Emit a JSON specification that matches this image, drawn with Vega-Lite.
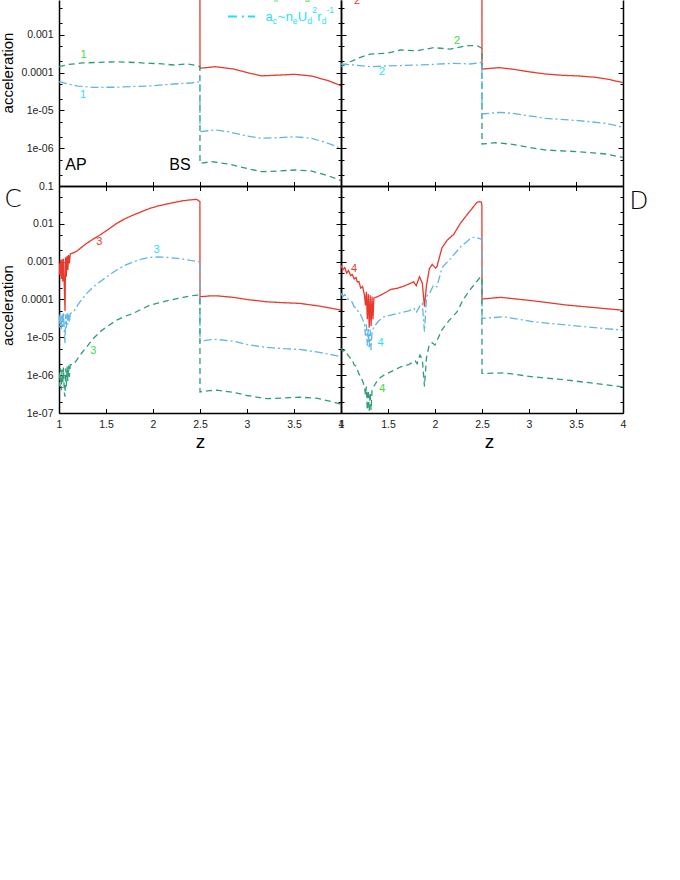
{
 "$schema": "https://vega.github.io/schema/vega-lite/v6.json",
 "padding": 0,
 "background": "white",
 "config": {
  "view": {"stroke": null},
  "axis": {"grid": false, "domainColor": "#000", "domainWidth": 1.5, "tickColor": "#000", "tickWidth": 1, "labelFont": "Liberation Sans", "labelFontSize": 10.5, "labelColor": "#222", "titleFont": "Liberation Sans", "titleFontWeight": "normal", "titleColor": "#000", "labelOverlap": false, "labelFlush": false},
  "text": {"font": "Liberation Sans"}
 },
 "datasets": {
  "curves": [
   {"panel":"A","series":"red","z":1,"a":0.015},{"panel":"A","series":"red","z":1.5,"a":0.022},{"panel":"A","series":"red","z":2,"a":0.03},{"panel":"A","series":"red","z":2.499,"a":0.04},{"panel":"A","series":"red","z":2.5,"a":0.00013},{"panel":"A","series":"red","z":2.66,"a":0.000143},{"panel":"A","series":"red","z":2.85,"a":0.000125},{"panel":"A","series":"red","z":3,"a":0.0001},{"panel":"A","series":"red","z":3.156,"a":8.2e-5},{"panel":"A","series":"red","z":3.3,"a":8.5e-5},{"panel":"A","series":"red","z":3.511,"a":9.0e-5},{"panel":"A","series":"red","z":3.688,"a":8.1e-5},{"panel":"A","series":"red","z":3.865,"a":6.1e-5},{"panel":"A","series":"red","z":4,"a":4.5e-5},
   {"panel":"A","series":"green","z":1,"a":0.000143},{"panel":"A","series":"green","z":1.1,"a":0.000164},{"panel":"A","series":"green","z":1.25,"a":0.00018},{"panel":"A","series":"green","z":1.436,"a":0.000187},{"panel":"A","series":"green","z":1.61,"a":0.000194},{"panel":"A","series":"green","z":1.8,"a":0.000185},{"panel":"A","series":"green","z":1.97,"a":0.000176},{"panel":"A","series":"green","z":2.1,"a":0.00017},{"panel":"A","series":"green","z":2.22,"a":0.000159},{"panel":"A","series":"green","z":2.36,"a":0.000169},{"panel":"A","series":"green","z":2.46,"a":0.000155},{"panel":"A","series":"green","z":2.499,"a":0.000143},{"panel":"A","series":"green","z":2.5,"a":3.98e-7},{"panel":"A","series":"green","z":2.624,"a":4.4e-7},{"panel":"A","series":"green","z":2.801,"a":3.82e-7},{"panel":"A","series":"green","z":3,"a":2.9e-7},{"panel":"A","series":"green","z":3.156,"a":2.39e-7},{"panel":"A","series":"green","z":3.33,"a":2.5e-7},{"panel":"A","series":"green","z":3.511,"a":2.65e-7},{"panel":"A","series":"green","z":3.688,"a":2.49e-7},{"panel":"A","series":"green","z":3.865,"a":1.87e-7},{"panel":"A","series":"green","z":4,"a":1.38e-7},
   {"panel":"A","series":"blue","z":1,"a":5.74e-5},{"panel":"A","series":"blue","z":1.1,"a":5.0e-5},{"panel":"A","series":"blue","z":1.2,"a":4.4e-5},{"panel":"A","series":"blue","z":1.36,"a":4.08e-5},{"panel":"A","series":"blue","z":1.61,"a":4.1e-5},{"panel":"A","series":"blue","z":1.8,"a":4.3e-5},{"panel":"A","series":"blue","z":1.97,"a":4.43e-5},{"panel":"A","series":"blue","z":2.22,"a":4.99e-5},{"panel":"A","series":"blue","z":2.4,"a":5.3e-5},{"panel":"A","series":"blue","z":2.499,"a":5.74e-5},{"panel":"A","series":"blue","z":2.5,"a":2.74e-6},{"panel":"A","series":"blue","z":2.66,"a":3.03e-6},{"panel":"A","series":"blue","z":2.801,"a":2.74e-6},{"panel":"A","series":"blue","z":3,"a":2.1e-6},{"panel":"A","series":"blue","z":3.156,"a":1.83e-6},{"panel":"A","series":"blue","z":3.33,"a":1.9e-6},{"panel":"A","series":"blue","z":3.511,"a":2.01e-6},{"panel":"A","series":"blue","z":3.688,"a":1.83e-6},{"panel":"A","series":"blue","z":3.865,"a":1.35e-6},{"panel":"A","series":"blue","z":4,"a":9.9e-7},

   {"panel":"B","series":"red","z":1,"a":0.012},{"panel":"B","series":"red","z":1.5,"a":0.018},{"panel":"B","series":"red","z":2,"a":0.028},{"panel":"B","series":"red","z":2.499,"a":0.04},{"panel":"B","series":"red","z":2.5,"a":0.000124},{"panel":"B","series":"red","z":2.681,"a":0.000135},{"panel":"B","series":"red","z":2.822,"a":0.000124},{"panel":"B","series":"red","z":3,"a":0.000105},{"panel":"B","series":"red","z":3.178,"a":9.18e-5},{"panel":"B","series":"red","z":3.35,"a":8.5e-5},{"panel":"B","series":"red","z":3.532,"a":8.13e-5},{"panel":"B","series":"red","z":3.71,"a":7.51e-5},{"panel":"B","series":"red","z":3.85,"a":6.6e-5},{"panel":"B","series":"red","z":4,"a":5.41e-5},
   {"panel":"B","series":"green","z":1,"a":0.000143},{"panel":"B","series":"green","z":1.099,"a":0.000194},{"panel":"B","series":"green","z":1.2,"a":0.00025},{"panel":"B","series":"green","z":1.312,"a":0.00031},{"panel":"B","series":"green","z":1.489,"a":0.000324},{"panel":"B","series":"green","z":1.631,"a":0.000396},{"panel":"B","series":"green","z":1.809,"a":0.00038},{"panel":"B","series":"green","z":1.986,"a":0.000456},{"panel":"B","series":"green","z":2.163,"a":0.00042},{"panel":"B","series":"green","z":2.34,"a":0.000515},{"panel":"B","series":"green","z":2.447,"a":0.000515},{"panel":"B","series":"green","z":2.499,"a":0.00044},{"panel":"B","series":"green","z":2.5,"a":1.29e-6},{"panel":"B","series":"green","z":2.646,"a":1.4e-6},{"panel":"B","series":"green","z":2.822,"a":1.27e-6},{"panel":"B","series":"green","z":3,"a":1.05e-6},{"panel":"B","series":"green","z":3.178,"a":8.95e-7},{"panel":"B","series":"green","z":3.532,"a":8.07e-7},{"panel":"B","series":"green","z":3.816,"a":7.03e-7},{"panel":"B","series":"green","z":4,"a":5.7e-7},
   {"panel":"B","series":"blue","z":1,"a":0.000169},{"panel":"B","series":"blue","z":1.135,"a":0.000159},{"panel":"B","series":"blue","z":1.312,"a":0.000143},{"panel":"B","series":"blue","z":1.489,"a":0.00015},{"panel":"B","series":"blue","z":1.844,"a":0.000159},{"panel":"B","series":"blue","z":2.199,"a":0.000176},{"panel":"B","series":"blue","z":2.376,"a":0.000169},{"panel":"B","series":"blue","z":2.499,"a":0.000187},{"panel":"B","series":"blue","z":2.5,"a":8.04e-6},{"panel":"B","series":"blue","z":2.681,"a":8.9e-6},{"panel":"B","series":"blue","z":2.822,"a":8.38e-6},{"panel":"B","series":"blue","z":3,"a":7.2e-6},{"panel":"B","series":"blue","z":3.178,"a":6.18e-6},{"panel":"B","series":"blue","z":3.532,"a":5.34e-6},{"panel":"B","series":"blue","z":3.816,"a":4.56e-6},{"panel":"B","series":"blue","z":4,"a":3.57e-6},

   {"panel":"C","series":"red","z":1,"a":0.0009},{"panel":"C","series":"red","z":1.008,"a":0.00045},{"panel":"C","series":"red","z":1.016,"a":0.0011},{"panel":"C","series":"red","z":1.024,"a":0.00035},{"panel":"C","series":"red","z":1.032,"a":0.00115},{"panel":"C","series":"red","z":1.04,"a":0.0003},{"panel":"C","series":"red","z":1.048,"a":0.0012},{"panel":"C","series":"red","z":1.056,"a":0.00025},{"panel":"C","series":"red","z":1.064,"a":5.0e-5},{"panel":"C","series":"red","z":1.07,"a":0.0013},{"panel":"C","series":"red","z":1.078,"a":0.0004},{"panel":"C","series":"red","z":1.086,"a":0.0014},{"panel":"C","series":"red","z":1.094,"a":0.0006},{"panel":"C","series":"red","z":1.102,"a":0.0015},{"panel":"C","series":"red","z":1.11,"a":0.0009},{"panel":"C","series":"red","z":1.12,"a":0.0016},{"panel":"C","series":"red","z":1.15,"a":0.0017},{"panel":"C","series":"red","z":1.19,"a":0.0019},{"panel":"C","series":"red","z":1.24,"a":0.0024},{"panel":"C","series":"red","z":1.295,"a":0.00305},{"panel":"C","series":"red","z":1.36,"a":0.0039},{"panel":"C","series":"red","z":1.436,"a":0.00506},{"panel":"C","series":"red","z":1.52,"a":0.007},{"panel":"C","series":"red","z":1.614,"a":0.0103},{"panel":"C","series":"red","z":1.7,"a":0.0135},{"panel":"C","series":"red","z":1.79,"a":0.0171},{"panel":"C","series":"red","z":1.88,"a":0.021},{"panel":"C","series":"red","z":1.968,"a":0.0257},{"panel":"C","series":"red","z":2.05,"a":0.0295},{"panel":"C","series":"red","z":2.146,"a":0.0334},{"panel":"C","series":"red","z":2.23,"a":0.037},{"panel":"C","series":"red","z":2.322,"a":0.0409},{"panel":"C","series":"red","z":2.4,"a":0.043},{"panel":"C","series":"red","z":2.465,"a":0.0444},{"panel":"C","series":"red","z":2.499,"a":0.0385},{"panel":"C","series":"red","z":2.5,"a":0.000118},{"panel":"C","series":"red","z":2.6,"a":0.000124},{"panel":"C","series":"red","z":2.68,"a":0.000125},{"panel":"C","series":"red","z":2.854,"a":0.000114},{"panel":"C","series":"red","z":3,"a":0.0001},{"panel":"C","series":"red","z":3.21,"a":8.7e-5},{"panel":"C","series":"red","z":3.4,"a":8.2e-5},{"panel":"C","series":"red","z":3.56,"a":7.9e-5},{"panel":"C","series":"red","z":3.77,"a":6.7e-5},{"panel":"C","series":"red","z":4,"a":5.25e-5},
   {"panel":"C","series":"blue","z":1,"a":4.0e-5},{"panel":"C","series":"blue","z":1.008,"a":1.8e-5},{"panel":"C","series":"blue","z":1.016,"a":4.5e-5},{"panel":"C","series":"blue","z":1.024,"a":1.5e-5},{"panel":"C","series":"blue","z":1.032,"a":4.2e-5},{"panel":"C","series":"blue","z":1.04,"a":2.0e-5},{"panel":"C","series":"blue","z":1.048,"a":4.6e-5},{"panel":"C","series":"blue","z":1.056,"a":1.4e-5},{"panel":"C","series":"blue","z":1.064,"a":7e-6},{"panel":"C","series":"blue","z":1.07,"a":4.0e-5},{"panel":"C","series":"blue","z":1.078,"a":1.8e-5},{"panel":"C","series":"blue","z":1.086,"a":4.4e-5},{"panel":"C","series":"blue","z":1.094,"a":2.2e-5},{"panel":"C","series":"blue","z":1.102,"a":4.0e-5},{"panel":"C","series":"blue","z":1.11,"a":2.5e-5},{"panel":"C","series":"blue","z":1.12,"a":4.2e-5},{"panel":"C","series":"blue","z":1.152,"a":4.7e-5},{"panel":"C","series":"blue","z":1.22,"a":8.5e-5},{"panel":"C","series":"blue","z":1.295,"a":0.000145},{"panel":"C","series":"blue","z":1.36,"a":0.00021},{"panel":"C","series":"blue","z":1.436,"a":0.000294},{"panel":"C","series":"blue","z":1.52,"a":0.00042},{"panel":"C","series":"blue","z":1.614,"a":0.0006},{"panel":"C","series":"blue","z":1.7,"a":0.0008},{"panel":"C","series":"blue","z":1.79,"a":0.00099},{"panel":"C","series":"blue","z":1.88,"a":0.00117},{"panel":"C","series":"blue","z":1.968,"a":0.0013},{"panel":"C","series":"blue","z":2.05,"a":0.00133},{"panel":"C","series":"blue","z":2.146,"a":0.0013},{"panel":"C","series":"blue","z":2.23,"a":0.00124},{"panel":"C","series":"blue","z":2.322,"a":0.00117},{"panel":"C","series":"blue","z":2.4,"a":0.00108},{"panel":"C","series":"blue","z":2.499,"a":0.00099},{"panel":"C","series":"blue","z":2.5,"a":7.9e-6},{"panel":"C","series":"blue","z":2.6,"a":8.6e-6},{"panel":"C","series":"blue","z":2.68,"a":8.8e-6},{"panel":"C","series":"blue","z":2.854,"a":7.9e-6},{"panel":"C","series":"blue","z":3,"a":6.5e-6},{"panel":"C","series":"blue","z":3.21,"a":5.4e-6},{"panel":"C","series":"blue","z":3.4,"a":5.0e-6},{"panel":"C","series":"blue","z":3.56,"a":4.8e-6},{"panel":"C","series":"blue","z":3.77,"a":4.0e-6},{"panel":"C","series":"blue","z":3.92,"a":3.4e-6},{"panel":"C","series":"blue","z":4,"a":3.05e-6},
   {"panel":"C","series":"green","z":1,"a":1.2e-6},{"panel":"C","series":"green","z":1.008,"a":5e-7},{"panel":"C","series":"green","z":1.016,"a":1.5e-6},{"panel":"C","series":"green","z":1.024,"a":4e-7},{"panel":"C","series":"green","z":1.032,"a":1.4e-6},{"panel":"C","series":"green","z":1.04,"a":6e-7},{"panel":"C","series":"green","z":1.048,"a":1.6e-6},{"panel":"C","series":"green","z":1.056,"a":3.5e-7},{"panel":"C","series":"green","z":1.064,"a":2.7e-7},{"panel":"C","series":"green","z":1.07,"a":1.5e-6},{"panel":"C","series":"green","z":1.078,"a":5e-7},{"panel":"C","series":"green","z":1.086,"a":1.7e-6},{"panel":"C","series":"green","z":1.094,"a":7e-7},{"panel":"C","series":"green","z":1.102,"a":1.8e-6},{"panel":"C","series":"green","z":1.11,"a":9e-7},{"panel":"C","series":"green","z":1.12,"a":1.9e-6},{"panel":"C","series":"green","z":1.15,"a":1.9e-6},{"panel":"C","series":"green","z":1.188,"a":2.49e-6},{"panel":"C","series":"green","z":1.24,"a":3.8e-6},{"panel":"C","series":"green","z":1.295,"a":5.6e-6},{"panel":"C","series":"green","z":1.36,"a":9e-6},{"panel":"C","series":"green","z":1.436,"a":1.4e-5},{"panel":"C","series":"green","z":1.52,"a":2.0e-5},{"panel":"C","series":"green","z":1.614,"a":2.85e-5},{"panel":"C","series":"green","z":1.7,"a":3.6e-5},{"panel":"C","series":"green","z":1.79,"a":4.3e-5},{"panel":"C","series":"green","z":1.88,"a":5.6e-5},{"panel":"C","series":"green","z":1.968,"a":7.1e-5},{"panel":"C","series":"green","z":2.05,"a":8.0e-5},{"panel":"C","series":"green","z":2.146,"a":9.2e-5},{"panel":"C","series":"green","z":2.23,"a":0.000102},{"panel":"C","series":"green","z":2.322,"a":0.000114},{"panel":"C","series":"green","z":2.4,"a":0.000125},{"panel":"C","series":"green","z":2.48,"a":0.000131},{"panel":"C","series":"green","z":2.499,"a":0.000125},{"panel":"C","series":"green","z":2.5,"a":3.6e-7},{"panel":"C","series":"green","z":2.6,"a":3.9e-7},{"panel":"C","series":"green","z":2.68,"a":4.0e-7},{"panel":"C","series":"green","z":2.85,"a":3.55e-7},{"panel":"C","series":"green","z":3,"a":2.9e-7},{"panel":"C","series":"green","z":3.21,"a":2.39e-7},{"panel":"C","series":"green","z":3.4,"a":2.5e-7},{"panel":"C","series":"green","z":3.56,"a":2.62e-7},{"panel":"C","series":"green","z":3.75,"a":2.45e-7},{"panel":"C","series":"green","z":3.9,"a":2.0e-7},{"panel":"C","series":"green","z":4,"a":1.71e-7},

   {"panel":"D","series":"red","z":1,"a":0.00081},{"panel":"D","series":"red","z":1.02,"a":0.0006},{"panel":"D","series":"red","z":1.04,"a":0.0007},{"panel":"D","series":"red","z":1.06,"a":0.0005},{"panel":"D","series":"red","z":1.08,"a":0.00058},{"panel":"D","series":"red","z":1.103,"a":0.00043},{"panel":"D","series":"red","z":1.12,"a":0.00046},{"panel":"D","series":"red","z":1.14,"a":0.00035},{"panel":"D","series":"red","z":1.16,"a":0.00038},{"panel":"D","series":"red","z":1.173,"a":0.00029},{"panel":"D","series":"red","z":1.19,"a":0.0003},{"panel":"D","series":"red","z":1.21,"a":0.0002},{"panel":"D","series":"red","z":1.23,"a":0.00022},{"panel":"D","series":"red","z":1.25,"a":0.00013},{"panel":"D","series":"red","z":1.26,"a":7e-5},{"panel":"D","series":"red","z":1.27,"a":0.00016},{"panel":"D","series":"red","z":1.28,"a":3e-5},{"panel":"D","series":"red","z":1.29,"a":0.00014},{"panel":"D","series":"red","z":1.3,"a":1.8e-5},{"panel":"D","series":"red","z":1.31,"a":0.00013},{"panel":"D","series":"red","z":1.32,"a":2e-5},{"panel":"D","series":"red","z":1.33,"a":0.00012},{"panel":"D","series":"red","z":1.34,"a":3e-5},{"panel":"D","series":"red","z":1.35,"a":0.00011},{"panel":"D","series":"red","z":1.386,"a":0.000118},{"panel":"D","series":"red","z":1.457,"a":0.000145},{"panel":"D","series":"red","z":1.529,"a":0.000185},{"panel":"D","series":"red","z":1.596,"a":0.000197},{"panel":"D","series":"red","z":1.67,"a":0.000226},{"panel":"D","series":"red","z":1.741,"a":0.00027},{"panel":"D","series":"red","z":1.773,"a":0.000294},{"panel":"D","series":"red","z":1.8,"a":0.00023},{"panel":"D","series":"red","z":1.835,"a":0.000399},{"panel":"D","series":"red","z":1.865,"a":0.00027},{"panel":"D","series":"red","z":1.888,"a":6.5e-5},{"panel":"D","series":"red","z":1.91,"a":0.00024},{"panel":"D","series":"red","z":1.94,"a":0.00065},{"panel":"D","series":"red","z":1.97,"a":0.00085},{"panel":"D","series":"red","z":2.005,"a":0.00068},{"panel":"D","series":"red","z":2.02,"a":0.00073},{"panel":"D","series":"red","z":2.075,"a":0.00235},{"panel":"D","series":"red","z":2.13,"a":0.0037},{"panel":"D","series":"red","z":2.2,"a":0.0053},{"panel":"D","series":"red","z":2.27,"a":0.0103},{"panel":"D","series":"red","z":2.36,"a":0.02},{"panel":"D","series":"red","z":2.447,"a":0.037},{"panel":"D","series":"red","z":2.475,"a":0.0385},{"panel":"D","series":"red","z":2.492,"a":0.0375},{"panel":"D","series":"red","z":2.499,"a":0.032},{"panel":"D","series":"red","z":2.5,"a":0.000103},{"panel":"D","series":"red","z":2.7,"a":0.000114},{"panel":"D","series":"red","z":3.05,"a":9.2e-5},{"panel":"D","series":"red","z":3.41,"a":7.1e-5},{"panel":"D","series":"red","z":4,"a":5.2e-5},
   {"panel":"D","series":"blue","z":1,"a":0.000145},{"panel":"D","series":"blue","z":1.02,"a":0.00012},{"panel":"D","series":"blue","z":1.04,"a":0.000135},{"panel":"D","series":"blue","z":1.07,"a":0.000105},{"panel":"D","series":"blue","z":1.1,"a":9e-5},{"panel":"D","series":"blue","z":1.12,"a":8.5e-5},{"panel":"D","series":"blue","z":1.138,"a":6.5e-5},{"panel":"D","series":"blue","z":1.16,"a":6.0e-5},{"panel":"D","series":"blue","z":1.19,"a":4.5e-5},{"panel":"D","series":"blue","z":1.21,"a":3.9e-5},{"panel":"D","series":"blue","z":1.23,"a":3.0e-5},{"panel":"D","series":"blue","z":1.25,"a":2.2e-5},{"panel":"D","series":"blue","z":1.26,"a":1.1e-5},{"panel":"D","series":"blue","z":1.27,"a":2.2e-5},{"panel":"D","series":"blue","z":1.28,"a":6e-6},{"panel":"D","series":"blue","z":1.29,"a":1.8e-5},{"panel":"D","series":"blue","z":1.3,"a":5e-6},{"panel":"D","series":"blue","z":1.31,"a":1.6e-5},{"panel":"D","series":"blue","z":1.32,"a":4.6e-6},{"panel":"D","series":"blue","z":1.33,"a":1.4e-5},{"panel":"D","series":"blue","z":1.351,"a":1.9e-5},{"panel":"D","series":"blue","z":1.4,"a":2.7e-5},{"panel":"D","series":"blue","z":1.457,"a":3.5e-5},{"panel":"D","series":"blue","z":1.55,"a":4.0e-5},{"panel":"D","series":"blue","z":1.635,"a":4.45e-5},{"panel":"D","series":"blue","z":1.72,"a":5.0e-5},{"panel":"D","series":"blue","z":1.777,"a":5.8e-5},{"panel":"D","series":"blue","z":1.8,"a":4.5e-5},{"panel":"D","series":"blue","z":1.835,"a":6.5e-5},{"panel":"D","series":"blue","z":1.865,"a":7.9e-5},{"panel":"D","series":"blue","z":1.888,"a":1.4e-5},{"panel":"D","series":"blue","z":1.91,"a":0.00012},{"panel":"D","series":"blue","z":1.95,"a":0.00016},{"panel":"D","series":"blue","z":1.985,"a":0.00024},{"panel":"D","series":"blue","z":2.02,"a":0.000217},{"panel":"D","series":"blue","z":2.075,"a":0.0007},{"panel":"D","series":"blue","z":2.167,"a":0.00122},{"panel":"D","series":"blue","z":2.273,"a":0.00248},{"panel":"D","series":"blue","z":2.38,"a":0.00413},{"panel":"D","series":"blue","z":2.42,"a":0.0045},{"panel":"D","series":"blue","z":2.46,"a":0.0042},{"panel":"D","series":"blue","z":2.499,"a":0.0039},{"panel":"D","series":"blue","z":2.5,"a":3.16e-5},{"panel":"D","series":"blue","z":2.73,"a":3.5e-5},{"panel":"D","series":"blue","z":3.05,"a":2.57e-5},{"panel":"D","series":"blue","z":3.41,"a":2.1e-5},{"panel":"D","series":"blue","z":4,"a":1.55e-5},
   {"panel":"D","series":"green","z":1,"a":5.1e-6},{"panel":"D","series":"green","z":1.02,"a":4.3e-6},{"panel":"D","series":"green","z":1.046,"a":4.6e-6},{"panel":"D","series":"green","z":1.07,"a":3.5e-6},{"panel":"D","series":"green","z":1.1,"a":2.8e-6},{"panel":"D","series":"green","z":1.12,"a":2.6e-6},{"panel":"D","series":"green","z":1.138,"a":1.9e-6},{"panel":"D","series":"green","z":1.16,"a":1.7e-6},{"panel":"D","series":"green","z":1.19,"a":1.1e-6},{"panel":"D","series":"green","z":1.21,"a":9e-7},{"panel":"D","series":"green","z":1.23,"a":7e-7},{"panel":"D","series":"green","z":1.25,"a":5e-7},{"panel":"D","series":"green","z":1.26,"a":3e-7},{"panel":"D","series":"green","z":1.27,"a":5e-7},{"panel":"D","series":"green","z":1.28,"a":1.2e-7},{"panel":"D","series":"green","z":1.29,"a":4e-7},{"panel":"D","series":"green","z":1.3,"a":1.1e-7},{"panel":"D","series":"green","z":1.31,"a":3.5e-7},{"panel":"D","series":"green","z":1.32,"a":1.2e-7},{"panel":"D","series":"green","z":1.33,"a":4e-7},{"panel":"D","series":"green","z":1.367,"a":6.0e-7},{"panel":"D","series":"green","z":1.4,"a":8e-7},{"panel":"D","series":"green","z":1.457,"a":1.0e-6},{"panel":"D","series":"green","z":1.55,"a":1.3e-6},{"panel":"D","series":"green","z":1.635,"a":1.66e-6},{"panel":"D","series":"green","z":1.72,"a":1.9e-6},{"panel":"D","series":"green","z":1.79,"a":2.4e-6},{"panel":"D","series":"green","z":1.81,"a":2.0e-6},{"panel":"D","series":"green","z":1.84,"a":3.4e-6},{"panel":"D","series":"green","z":1.865,"a":2.6e-6},{"panel":"D","series":"green","z":1.888,"a":5.0e-7},{"panel":"D","series":"green","z":1.91,"a":3.0e-6},{"panel":"D","series":"green","z":1.94,"a":6.5e-6},{"panel":"D","series":"green","z":1.97,"a":7.2e-6},{"panel":"D","series":"green","z":2,"a":6.3e-6},{"panel":"D","series":"green","z":2.075,"a":1.6e-5},{"panel":"D","series":"green","z":2.15,"a":2.8e-5},{"panel":"D","series":"green","z":2.234,"a":4.7e-5},{"panel":"D","series":"green","z":2.3,"a":0.0001},{"panel":"D","series":"green","z":2.38,"a":0.00019},{"panel":"D","series":"green","z":2.486,"a":0.0004},{"panel":"D","series":"green","z":2.499,"a":0.00039},{"panel":"D","series":"green","z":2.5,"a":1.11e-6},{"panel":"D","series":"green","z":2.73,"a":1.15e-6},{"panel":"D","series":"green","z":3.05,"a":9.0e-7},{"panel":"D","series":"green","z":3.41,"a":7.4e-7},{"panel":"D","series":"green","z":4,"a":4.9e-7}
  ],
  "texts": [
   {"panel":"A","kind":"num","series":"lgreen","text":"1","z":1.26,"a":0.000292},
   {"panel":"A","kind":"num","series":"lcyan","text":"1","z":1.256,"a":2.55e-5},
   {"panel":"B","kind":"num","series":"lred","text":"2","z":1.17,"a":0.0078},
   {"panel":"B","kind":"num","series":"lgreen","text":"2","z":2.234,"a":0.000698},
   {"panel":"B","kind":"num","series":"lcyan","text":"2","z":1.436,"a":0.000102},
   {"panel":"C","kind":"num","series":"lred","text":"3","z":1.429,"a":0.00337},
   {"panel":"C","kind":"num","series":"lcyan","text":"3","z":2.039,"a":0.00203},
   {"panel":"C","kind":"num","series":"lgreen","text":"3","z":1.365,"a":4.4e-6},
   {"panel":"D","kind":"num","series":"lred","text":"4","z":1.138,"a":0.000625},
   {"panel":"D","kind":"num","series":"lcyan","text":"4","z":1.422,"a":6.9e-6},
   {"panel":"D","kind":"num","series":"lgreen","text":"4","z":1.44,"a":4.2e-7},
   {"panel":"A","kind":"big","series":"black","text":"AP","z":1.181,"a":3.6e-7},
   {"panel":"A","kind":"big","series":"black","text":"BS","z":2.287,"a":3.6e-7},
   {"panel":"C","kind":"big","series":"black","text":"C","z":0.511,"a":0.0453},
   {"panel":"D","kind":"big","series":"black","text":"D","z":4.17,"a":0.0401},
   {"panel":"A","kind":"main","series":"lcyan","text":"a","z":3.197,"a":0.0029},
   {"panel":"A","kind":"main","series":"lcyan","text":"~","z":3.324,"a":0.0029},
   {"panel":"A","kind":"main","series":"lcyan","text":"n","z":3.411,"a":0.0029},
   {"panel":"A","kind":"main","series":"lcyan","text":"U","z":3.54,"a":0.0029},
   {"panel":"A","kind":"main","series":"lcyan","text":"r","z":3.748,"a":0.0029},
   {"panel":"A","kind":"sub","series":"lcyan","text":"c","z":3.273,"a":0.00234},
   {"panel":"A","kind":"sub","series":"lcyan","text":"e","z":3.487,"a":0.00234},
   {"panel":"A","kind":"sub","series":"lcyan","text":"d","z":3.64,"a":0.00234},
   {"panel":"A","kind":"sub","series":"lcyan","text":"d","z":3.794,"a":0.00234},
   {"panel":"A","kind":"sub","series":"lcyan","text":"2","z":3.694,"a":0.00445},
   {"panel":"A","kind":"sub","series":"lcyan","text":"-1","z":3.846,"a":0.00445},
   {"panel":"A","kind":"sub","series":"lgreen","text":"k","z":3.287,"a":0.00885},
   {"panel":"A","kind":"sub","series":"lgreen","text":"d","z":3.617,"a":0.00885}
  ],
  "legendline": [
   {"series":"lcyan","z":2.798,"a":0.00305},
   {"series":"lcyan","z":3.085,"a":0.00305}
  ]
 },
 "spacing": 0,
 "bounds": "flush",
 "columns": 2,
 "concat": [
    {
     "width": 282, "height": 186,
     "resolve": {"axis": {"x": "independent", "y": "independent"}},
     "layer": [
      {
       "data": {"name": "curves"},
       "transform": [{"filter": "datum.panel == 'A'"}],
       "mark": {"type": "line", "clip": true, "strokeWidth": 1.3},
       "encoding": {
        "x": {"field": "z", "type": "quantitative", "scale": {"domain": [1, 4], "nice": false, "zero": false},
              "axis": {"orient": "bottom", "values": [1, 1.5, 2, 2.5, 3, 3.5, 4], "labels": false, "tickSize": -4.5, "title": null}},
        "y": {"field": "a", "type": "quantitative", "scale": {"type": "log", "domain": [1e-7, 0.008327], "nice": false},
              "axis": {"orient": "left", "values": [2e-7,5e-7,1e-6,2e-6,5e-6,1e-5,2e-5,5e-5,0.0001,0.0002,0.0005,0.001,0.002,0.005],
                       "tickSize": {"condition": {"test": "abs(log(datum.value)/LN10 - round(log(datum.value)/LN10)) < 0.01", "value": -5}, "value": -3},
                       "labelExpr": "abs(log(datum.value)/LN10 - round(log(datum.value)/LN10)) > 0.01 ? '' : (datum.value >= 0.0001 ? format(datum.value, '.4~f') : '1e-0' + round(-log(datum.value)/LN10))",
                       "labelPadding": 11,
                       "title": "acceleration", "titleFontSize": 15, "titleAngle": 270, "titleAlign": "center", "titleBaseline": "bottom", "titleX": -43.5, "titleY": 72.5}},
        "color": {"field": "series", "type": "nominal", "legend": null,
                  "scale": {"domain": ["red","green","blue","lred","lgreen","lcyan","black"], "range": ["#e8392c","#2e9c78","#5fb6e6","#e63a2e","#3edc3e","#1fe3f2","#000000"]}},
        "strokeDash": {"field": "series", "type": "nominal", "legend": null,
                       "scale": {"domain": ["red","green","blue","lcyan"], "range": [[1,0],[6,4],[8,3,2,3],[9,5,2,4]]}}
       }
      },
      {
       "data": {"name": "texts"},
       "transform": [{"filter": "datum.panel == 'A' && datum.kind == 'num'"}],
       "mark": {"type": "text", "clip": true, "fontSize": 11, "align": "center", "baseline": "middle"},
       "encoding": {
        "x": {"field": "z", "type": "quantitative", "scale": {"domain": [1, 4], "nice": false, "zero": false}, "axis": null},
        "y": {"field": "a", "type": "quantitative", "scale": {"type": "log", "domain": [1e-7, 0.008327], "nice": false},
              "axis": {"orient": "right", "values": [2e-7,5e-7,1e-6,2e-6,5e-6,1e-5,2e-5,5e-5,0.0001,0.0002,0.0005,0.001,0.002,0.005],
                       "tickSize": {"condition": {"test": "abs(log(datum.value)/LN10 - round(log(datum.value)/LN10)) < 0.01", "value": -5}, "value": -3},
                       "labels": false, "title": null}},
        "text": {"field": "text"},
        "color": {"field": "series", "type": "nominal", "legend": null,
                  "scale": {"domain": ["red","green","blue","lred","lgreen","lcyan","black"], "range": ["#e8392c","#2e9c78","#5fb6e6","#e63a2e","#3edc3e","#1fe3f2","#000000"]}}
       }
      },
      {
       "data": {"name": "texts"},
       "transform": [{"filter": "datum.panel == 'A' && datum.kind == 'big'"}],
       "mark": {"type": "text", "clip": false, "fontSize": 16, "align": "center", "baseline": "middle"},
       "encoding": {
        "x": {"field": "z", "type": "quantitative", "scale": {"domain": [1, 4], "nice": false, "zero": false}, "axis": null},
        "y": {"field": "a", "type": "quantitative", "scale": {"type": "log", "domain": [1e-7, 0.008327], "nice": false}, "axis": null},
        "text": {"field": "text"},
        "color": {"field": "series", "type": "nominal", "legend": null,
                  "scale": {"domain": ["red","green","blue","lred","lgreen","lcyan","black"], "range": ["#e8392c","#2e9c78","#5fb6e6","#e63a2e","#3edc3e","#1fe3f2","#000000"]}}
       }
      },
      {
       "data": {"name": "texts"},
       "transform": [{"filter": "datum.panel == 'A' && datum.kind == 'main'"}],
       "mark": {"type": "text", "clip": true, "fontSize": 13, "align": "left", "baseline": "middle"},
       "encoding": {
        "x": {"field": "z", "type": "quantitative", "scale": {"domain": [1, 4], "nice": false, "zero": false}, "axis": null},
        "y": {"field": "a", "type": "quantitative", "scale": {"type": "log", "domain": [1e-7, 0.008327], "nice": false}, "axis": null},
        "text": {"field": "text"},
        "color": {"field": "series", "type": "nominal", "legend": null,
                  "scale": {"domain": ["red","green","blue","lred","lgreen","lcyan","black"], "range": ["#e8392c","#2e9c78","#5fb6e6","#e63a2e","#3edc3e","#1fe3f2","#000000"]}}
       }
      },
      {
       "data": {"name": "texts"},
       "transform": [{"filter": "datum.panel == 'A' && datum.kind == 'sub'"}],
       "mark": {"type": "text", "clip": true, "fontSize": 8.5, "align": "left", "baseline": "middle"},
       "encoding": {
        "x": {"field": "z", "type": "quantitative", "scale": {"domain": [1, 4], "nice": false, "zero": false}, "axis": null},
        "y": {"field": "a", "type": "quantitative", "scale": {"type": "log", "domain": [1e-7, 0.008327], "nice": false}, "axis": null},
        "text": {"field": "text"},
        "color": {"field": "series", "type": "nominal", "legend": null,
                  "scale": {"domain": ["red","green","blue","lred","lgreen","lcyan","black"], "range": ["#e8392c","#2e9c78","#5fb6e6","#e63a2e","#3edc3e","#1fe3f2","#000000"]}}
       }
      },
      {
       "data": {"name": "legendline"},
       "mark": {"type": "line", "clip": true, "strokeWidth": 2},
       "encoding": {
        "x": {"field": "z", "type": "quantitative", "scale": {"domain": [1, 4], "nice": false, "zero": false}, "axis": null},
        "y": {"field": "a", "type": "quantitative", "scale": {"type": "log", "domain": [1e-7, 0.008327], "nice": false}, "axis": null},
        "color": {"field": "series", "type": "nominal", "legend": null,
                  "scale": {"domain": ["red","green","blue","lred","lgreen","lcyan","black"], "range": ["#e8392c","#2e9c78","#5fb6e6","#e63a2e","#3edc3e","#1fe3f2","#000000"]}},
        "strokeDash": {"field": "series", "type": "nominal", "legend": null,
                       "scale": {"domain": ["red","green","blue","lcyan"], "range": [[1,0],[6,4],[8,3,2,3],[9,5,2,4]]}}
       }
      }
     ]
    },
    {
     "width": 282, "height": 186,
     "resolve": {"axis": {"x": "independent", "y": "independent"}},
     "layer": [
      {
       "data": {"name": "curves"},
       "transform": [{"filter": "datum.panel == 'B'"}],
       "mark": {"type": "line", "clip": true, "strokeWidth": 1.3},
       "encoding": {
        "x": {"field": "z", "type": "quantitative", "scale": {"domain": [1, 4], "nice": false, "zero": false},
              "axis": {"orient": "bottom", "values": [1, 1.5, 2, 2.5, 3, 3.5, 4], "labels": false, "tickSize": -4.5, "title": null}},
        "y": {"field": "a", "type": "quantitative", "scale": {"type": "log", "domain": [1e-7, 0.008327], "nice": false},
              "axis": {"orient": "left", "values": [2e-7,5e-7,1e-6,2e-6,5e-6,1e-5,2e-5,5e-5,0.0001,0.0002,0.0005,0.001,0.002,0.005],
                       "tickSize": {"condition": {"test": "abs(log(datum.value)/LN10 - round(log(datum.value)/LN10)) < 0.01", "value": -5}, "value": -3},
                       "labels": false, "title": null}},
        "color": {"field": "series", "type": "nominal", "legend": null,
                  "scale": {"domain": ["red","green","blue","lred","lgreen","lcyan","black"], "range": ["#e8392c","#2e9c78","#5fb6e6","#e63a2e","#3edc3e","#1fe3f2","#000000"]}},
        "strokeDash": {"field": "series", "type": "nominal", "legend": null,
                       "scale": {"domain": ["red","green","blue","lcyan"], "range": [[1,0],[6,4],[8,3,2,3],[9,5,2,4]]}}
       }
      },
      {
       "data": {"name": "texts"},
       "transform": [{"filter": "datum.panel == 'B' && datum.kind == 'num'"}],
       "mark": {"type": "text", "clip": true, "fontSize": 11, "align": "center", "baseline": "middle"},
       "encoding": {
        "x": {"field": "z", "type": "quantitative", "scale": {"domain": [1, 4], "nice": false, "zero": false}, "axis": null},
        "y": {"field": "a", "type": "quantitative", "scale": {"type": "log", "domain": [1e-7, 0.008327], "nice": false},
              "axis": {"orient": "right", "values": [2e-7,5e-7,1e-6,2e-6,5e-6,1e-5,2e-5,5e-5,0.0001,0.0002,0.0005,0.001,0.002,0.005],
                       "tickSize": {"condition": {"test": "abs(log(datum.value)/LN10 - round(log(datum.value)/LN10)) < 0.01", "value": -5}, "value": -3},
                       "labels": false, "title": null}},
        "text": {"field": "text"},
        "color": {"field": "series", "type": "nominal", "legend": null,
                  "scale": {"domain": ["red","green","blue","lred","lgreen","lcyan","black"], "range": ["#e8392c","#2e9c78","#5fb6e6","#e63a2e","#3edc3e","#1fe3f2","#000000"]}}
       }
      }
     ]
    },
    {
     "width": 282, "height": 227,
     "resolve": {"axis": {"x": "independent", "y": "independent"}},
     "layer": [
      {
       "data": {"name": "curves"},
       "transform": [{"filter": "datum.panel == 'C'"}],
       "mark": {"type": "line", "clip": true, "strokeWidth": 1.3},
       "encoding": {
        "x": {"field": "z", "type": "quantitative", "scale": {"domain": [1, 4], "nice": false, "zero": false},
              "axis": {"orient": "bottom", "values": [1, 1.5, 2, 2.5, 3, 3.5, 4], "format": "~g", "tickSize": -4.5, "labelPadding": 11, "title": "z", "titleFontSize": 19, "titlePadding": 2}},
        "y": {"field": "a", "type": "quantitative", "scale": {"type": "log", "domain": [1e-7, 0.1], "nice": false},
              "axis": {"orient": "left", "values": [1e-7,2e-7,5e-7,1e-6,2e-6,5e-6,1e-5,2e-5,5e-5,0.0001,0.0002,0.0005,0.001,0.002,0.005,0.01,0.02,0.05,0.1],
                       "tickSize": {"condition": {"test": "abs(log(datum.value)/LN10 - round(log(datum.value)/LN10)) < 0.01", "value": -5}, "value": -3},
                       "labelExpr": "abs(log(datum.value)/LN10 - round(log(datum.value)/LN10)) > 0.01 ? '' : (datum.value >= 0.0001 ? format(datum.value, '.4~f') : '1e-0' + round(-log(datum.value)/LN10))",
                       "labelPadding": 11,
                       "title": "acceleration", "titleFontSize": 15, "titleAngle": 270, "titleAlign": "center", "titleBaseline": "bottom", "titleX": -43.5, "titleY": 119}},
        "color": {"field": "series", "type": "nominal", "legend": null,
                  "scale": {"domain": ["red","green","blue","lred","lgreen","lcyan","black"], "range": ["#e8392c","#2e9c78","#5fb6e6","#e63a2e","#3edc3e","#1fe3f2","#000000"]}},
        "strokeDash": {"field": "series", "type": "nominal", "legend": null,
                       "scale": {"domain": ["red","green","blue","lcyan"], "range": [[1,0],[6,4],[8,3,2,3],[9,5,2,4]]}}
       }
      },
      {
       "data": {"name": "texts"},
       "transform": [{"filter": "datum.panel == 'C' && datum.kind == 'num'"}],
       "mark": {"type": "text", "clip": true, "fontSize": 11, "align": "center", "baseline": "middle"},
       "encoding": {
        "x": {"field": "z", "type": "quantitative", "scale": {"domain": [1, 4], "nice": false, "zero": false},
              "axis": {"orient": "top", "values": [1, 1.5, 2, 2.5, 3, 3.5, 4], "labels": false, "tickSize": -4.5, "title": null}},
        "y": {"field": "a", "type": "quantitative", "scale": {"type": "log", "domain": [1e-7, 0.1], "nice": false},
              "axis": {"orient": "right", "values": [1e-7,2e-7,5e-7,1e-6,2e-6,5e-6,1e-5,2e-5,5e-5,0.0001,0.0002,0.0005,0.001,0.002,0.005,0.01,0.02,0.05,0.1],
                       "tickSize": {"condition": {"test": "abs(log(datum.value)/LN10 - round(log(datum.value)/LN10)) < 0.01", "value": -5}, "value": -3},
                       "labels": false, "title": null}},
        "text": {"field": "text"},
        "color": {"field": "series", "type": "nominal", "legend": null,
                  "scale": {"domain": ["red","green","blue","lred","lgreen","lcyan","black"], "range": ["#e8392c","#2e9c78","#5fb6e6","#e63a2e","#3edc3e","#1fe3f2","#000000"]}}
       }
      },
      {
       "data": {"name": "texts"},
       "transform": [{"filter": "datum.panel == 'C' && datum.kind == 'big'"}],
       "mark": {"type": "text", "clip": false, "fontSize": 25, "align": "center", "baseline": "middle", "font": "DejaVu Sans", "fontWeight": 300},
       "encoding": {
        "x": {"field": "z", "type": "quantitative", "scale": {"domain": [1, 4], "nice": false, "zero": false}, "axis": null},
        "y": {"field": "a", "type": "quantitative", "scale": {"type": "log", "domain": [1e-7, 0.1], "nice": false}, "axis": null},
        "text": {"field": "text"},
        "color": {"field": "series", "type": "nominal", "legend": null,
                  "scale": {"domain": ["red","green","blue","lred","lgreen","lcyan","black"], "range": ["#e8392c","#2e9c78","#5fb6e6","#e63a2e","#3edc3e","#1fe3f2","#000000"]}}
       }
      }
     ]
    },
    {
     "width": 282, "height": 227,
     "resolve": {"axis": {"x": "independent", "y": "independent"}},
     "layer": [
      {
       "data": {"name": "curves"},
       "transform": [{"filter": "datum.panel == 'D'"}],
       "mark": {"type": "line", "clip": true, "strokeWidth": 1.3},
       "encoding": {
        "x": {"field": "z", "type": "quantitative", "scale": {"domain": [1, 4], "nice": false, "zero": false},
              "axis": {"orient": "bottom", "values": [1, 1.5, 2, 2.5, 3, 3.5, 4], "format": "~g", "tickSize": -4.5, "labelPadding": 11, "title": "z", "titleFontSize": 19, "titlePadding": 2, "titleX": 148}},
        "y": {"field": "a", "type": "quantitative", "scale": {"type": "log", "domain": [1e-7, 0.1], "nice": false},
              "axis": {"orient": "left", "values": [1e-7,2e-7,5e-7,1e-6,2e-6,5e-6,1e-5,2e-5,5e-5,0.0001,0.0002,0.0005,0.001,0.002,0.005,0.01,0.02,0.05,0.1],
                       "tickSize": {"condition": {"test": "abs(log(datum.value)/LN10 - round(log(datum.value)/LN10)) < 0.01", "value": -5}, "value": -3},
                       "labels": false, "title": null}},
        "color": {"field": "series", "type": "nominal", "legend": null,
                  "scale": {"domain": ["red","green","blue","lred","lgreen","lcyan","black"], "range": ["#e8392c","#2e9c78","#5fb6e6","#e63a2e","#3edc3e","#1fe3f2","#000000"]}},
        "strokeDash": {"field": "series", "type": "nominal", "legend": null,
                       "scale": {"domain": ["red","green","blue","lcyan"], "range": [[1,0],[6,4],[8,3,2,3],[9,5,2,4]]}}
       }
      },
      {
       "data": {"name": "texts"},
       "transform": [{"filter": "datum.panel == 'D' && datum.kind == 'num'"}],
       "mark": {"type": "text", "clip": true, "fontSize": 11, "align": "center", "baseline": "middle"},
       "encoding": {
        "x": {"field": "z", "type": "quantitative", "scale": {"domain": [1, 4], "nice": false, "zero": false},
              "axis": {"orient": "top", "values": [1, 1.5, 2, 2.5, 3, 3.5, 4], "labels": false, "tickSize": -4.5, "title": null}},
        "y": {"field": "a", "type": "quantitative", "scale": {"type": "log", "domain": [1e-7, 0.1], "nice": false},
              "axis": {"orient": "right", "values": [1e-7,2e-7,5e-7,1e-6,2e-6,5e-6,1e-5,2e-5,5e-5,0.0001,0.0002,0.0005,0.001,0.002,0.005,0.01,0.02,0.05,0.1],
                       "tickSize": {"condition": {"test": "abs(log(datum.value)/LN10 - round(log(datum.value)/LN10)) < 0.01", "value": -5}, "value": -3},
                       "labels": false, "title": null}},
        "text": {"field": "text"},
        "color": {"field": "series", "type": "nominal", "legend": null,
                  "scale": {"domain": ["red","green","blue","lred","lgreen","lcyan","black"], "range": ["#e8392c","#2e9c78","#5fb6e6","#e63a2e","#3edc3e","#1fe3f2","#000000"]}}
       }
      },
      {
       "data": {"name": "texts"},
       "transform": [{"filter": "datum.panel == 'D' && datum.kind == 'big'"}],
       "mark": {"type": "text", "clip": false, "fontSize": 25, "align": "center", "baseline": "middle", "font": "DejaVu Sans", "fontWeight": 300},
       "encoding": {
        "x": {"field": "z", "type": "quantitative", "scale": {"domain": [1, 4], "nice": false, "zero": false}, "axis": null},
        "y": {"field": "a", "type": "quantitative", "scale": {"type": "log", "domain": [1e-7, 0.1], "nice": false}, "axis": null},
        "text": {"field": "text"},
        "color": {"field": "series", "type": "nominal", "legend": null,
                  "scale": {"domain": ["red","green","blue","lred","lgreen","lcyan","black"], "range": ["#e8392c","#2e9c78","#5fb6e6","#e63a2e","#3edc3e","#1fe3f2","#000000"]}}
       }
      }
     ]
    }
 ]
}
